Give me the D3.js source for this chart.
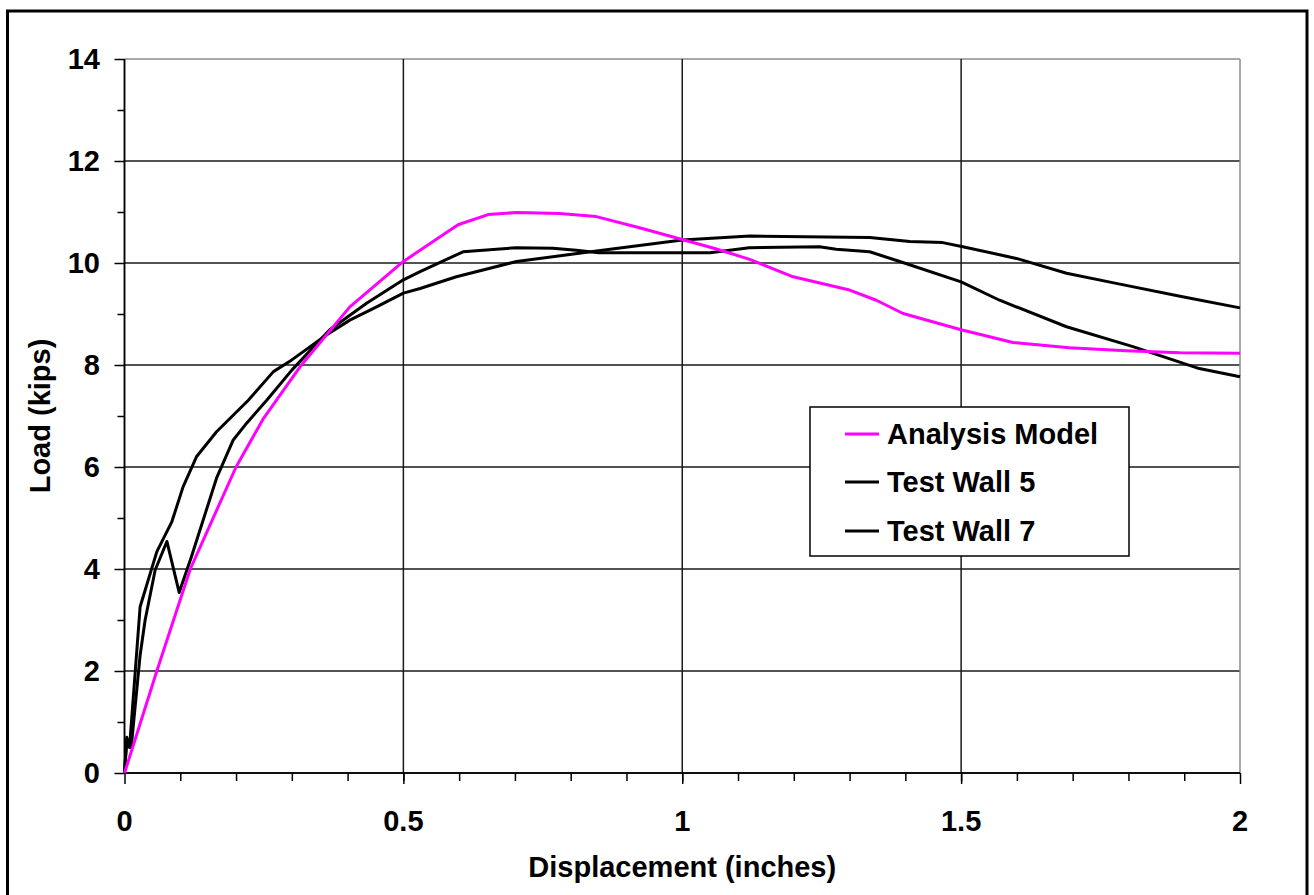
<!DOCTYPE html>
<html>
<head>
  <title>Load - Displacement</title>
  <script src="https://cdn.jsdelivr.net/npm/d3@7"></script>
  <style>
    body { margin: 0; background: #ffffff; }
    text { font-family: "Liberation Sans", Arial, sans-serif; font-weight: bold; fill: #000; }
  </style>
</head>
<body>
  <svg id="chart" width="1314" height="895"></svg>

  <script>
    // data: [displacement (in), load (kips)]
    var analysisX = [0, 0.058, 0.118, 0.2, 0.249, 0.315, 0.404, 0.5, 0.598, 0.652, 0.703, 0.78, 0.846,
                     0.92, 1.0, 1.06, 1.121, 1.199, 1.3, 1.348, 1.396, 1.5, 1.593, 1.694, 1.796, 1.892, 2.0];
    var analysisY = [0, 2.0, 4.0, 6.0, 6.95, 7.97, 9.14, 10.03, 10.75, 10.95, 10.99, 10.97, 10.91,
                     10.7, 10.46, 10.28, 10.07, 9.73, 9.47, 9.27, 9.01, 8.69, 8.44, 8.34, 8.28, 8.24, 8.23];

    var wall5X = [0, 0.004, 0.012, 0.028, 0.037, 0.055, 0.076, 0.098, 0.12, 0.165, 0.195, 0.219, 0.255,
                  0.3, 0.368, 0.434, 0.5, 0.53, 0.607, 0.703, 0.768, 0.81, 0.85, 1.05, 1.12, 1.246,
                  1.276, 1.336, 1.39, 1.5, 1.569, 1.689, 1.808, 1.927, 2.0];
    var wall5Y = [0, 0.6, 0.5, 2.31, 3.0, 3.98, 4.54, 3.54, 4.24, 5.78, 6.53, 6.86, 7.31,
                  7.9, 8.69, 9.21, 9.67, 9.83, 10.22, 10.3, 10.29, 10.25, 10.2, 10.2, 10.3, 10.32,
                  10.27, 10.22, 10.03, 9.63, 9.27, 8.75, 8.36, 7.93, 7.77];

    var wall7X = [0, 0.004, 0.009, 0.028, 0.058, 0.085, 0.105, 0.129, 0.165, 0.222, 0.267, 0.3,
                  0.362, 0.404, 0.452, 0.5, 0.53, 0.595, 0.703, 0.822, 1.0, 1.121, 1.336, 1.408,
                  1.467, 1.503, 1.599, 1.689, 1.778, 1.897, 2.0];
    var wall7Y = [0, 0.7, 0.5, 3.26, 4.34, 4.93, 5.61, 6.2, 6.69, 7.31, 7.87, 8.1,
                  8.59, 8.88, 9.14, 9.41, 9.5, 9.73, 10.03, 10.2, 10.45, 10.53, 10.5, 10.42,
                  10.4, 10.32, 10.09, 9.8, 9.6, 9.34, 9.12];

    var seriesNames  = ["Analysis Model", "Test Wall 5", "Test Wall 7"];
    var seriesColors = ["#ff00ff", "#000000", "#000000"];
    var xTicks = [0, 0.5, 1, 1.5, 2];
    var yTicks = [0, 2, 4, 6, 8, 10, 12, 14];

    var chart = d3.select("#chart");
    var margin = {left: 124.5, right: 1240, top: 59, bottom: 773};
    var fontsize = "29px";

    var x = d3.scaleLinear().domain([0, 2]).range([margin.left, margin.right]);
    var y = d3.scaleLinear().domain([0, 14]).range([margin.bottom, margin.top]);

    // background and outer frame
    chart.append("rect").attr("x", 0).attr("y", 0).attr("width", 1314).attr("height", 895).style("fill", "#ffffff");
    chart.append("rect").attr("x", 7.5).attr("y", 11).attr("width", 1299.5).attr("height", 910)
         .style("fill", "none").style("stroke", "#000").style("stroke-width", 3);

    // gridlines
    chart.append("g").selectAll("line").data(yTicks.slice(1)).enter().append("line")
         .attr("x1", margin.left).attr("x2", margin.right)
         .attr("y1", function(d) { return y(d); }).attr("y2", function(d) { return y(d); })
         .style("stroke", function(d) { return d == 14 ? "#8c8c8c" : "#1a1a1a"; }).style("stroke-width", 1.5);
    chart.append("g").selectAll("line").data(xTicks.slice(1)).enter().append("line")
         .attr("y1", margin.top).attr("y2", margin.bottom)
         .attr("x1", function(d) { return x(d); }).attr("x2", function(d) { return x(d); })
         .style("stroke", function(d) { return d == 2 ? "#8c8c8c" : "#1a1a1a"; }).style("stroke-width", 1.5);

    // axes
    var yAxis = d3.axisLeft(y).tickValues(yTicks).tickSize(10).tickFormat("");
    var yMinor = d3.axisLeft(y).tickValues(d3.range(1, 14, 2)).tickSize(7).tickFormat("");
    var xAxis = d3.axisBottom(x).tickValues(xTicks).tickSize(11).tickFormat("");
    var xMinor = d3.axisBottom(x).tickValues(d3.range(0.1, 2, 0.1)).tickSize(8).tickFormat("");

    chart.append("g").attr("transform", "translate(" + margin.left + ",0)").call(yMinor);
    chart.append("g").attr("transform", "translate(" + margin.left + ",0)").call(yAxis);
    chart.append("g").attr("transform", "translate(0," + margin.bottom + ")").call(xMinor);
    chart.append("g").attr("transform", "translate(0," + margin.bottom + ")").call(xAxis);
    chart.selectAll(".domain").style("stroke", "#000").style("stroke-width", 1.5).attr("d", function() {
      return d3.select(this.parentNode).attr("transform").indexOf("translate(0,") == 0
        ? "M" + margin.left + ",0H" + margin.right
        : "M0," + margin.top + "V" + margin.bottom;
    });
    chart.selectAll(".tick line").style("stroke", "#000").style("stroke-width", 1.5);

    // tick labels
    chart.append("g").selectAll("text").data(yTicks).enter().append("text")
         .attr("x", 100).attr("y", function(d) { return y(d); }).attr("dy", "0.36em")
         .style("text-anchor", "end").style("font-size", fontsize).text(function(d) { return d; });
    chart.append("g").selectAll("text").data(xTicks).enter().append("text")
         .attr("x", function(d) { return x(d); }).attr("y", 831)
         .style("text-anchor", "middle").style("font-size", fontsize).text(function(d) { return d; });

    // axis titles
    chart.append("text").attr("x", (margin.left + margin.right) / 2).attr("y", 877)
         .style("text-anchor", "middle").style("font-size", fontsize).text("Displacement (inches)");
    chart.append("text").attr("transform", "translate(50," + (margin.top + margin.bottom) / 2 + ") rotate(-90)")
         .style("text-anchor", "middle").style("font-size", fontsize).text("Load (kips)");

    // curves
    var line = d3.line().x(function(d) { return x(d[0]); }).y(function(d) { return y(d[1]); });
    var series = [d3.zip(analysisX, analysisY), d3.zip(wall5X, wall5Y), d3.zip(wall7X, wall7Y)];
    for (var i = 2; i >= 0; i--) {
      chart.append("path").datum(series[i]).attr("d", line)
           .style("fill", "none").style("stroke", seriesColors[i]).style("stroke-width", 3)
           .style("stroke-linejoin", "round");
    }

    // legend
    var lg = chart.append("g");
    lg.append("rect").attr("x", 810).attr("y", 407).attr("width", 319).attr("height", 149)
      .style("fill", "#ffffff").style("stroke", "#000").style("stroke-width", 1.5);
    var rows = [434, 482, 531];
    for (var j = 0; j < seriesNames.length; j++) {
      lg.append("line").attr("x1", 845).attr("x2", 879).attr("y1", rows[j]).attr("y2", rows[j])
        .style("stroke", seriesColors[j]).style("stroke-width", 3);
      lg.append("text").attr("x", 887).attr("y", rows[j]).attr("dy", "0.36em")
        .style("font-size", fontsize).text(seriesNames[j]);
    }
  </script>
</body>
</html>
